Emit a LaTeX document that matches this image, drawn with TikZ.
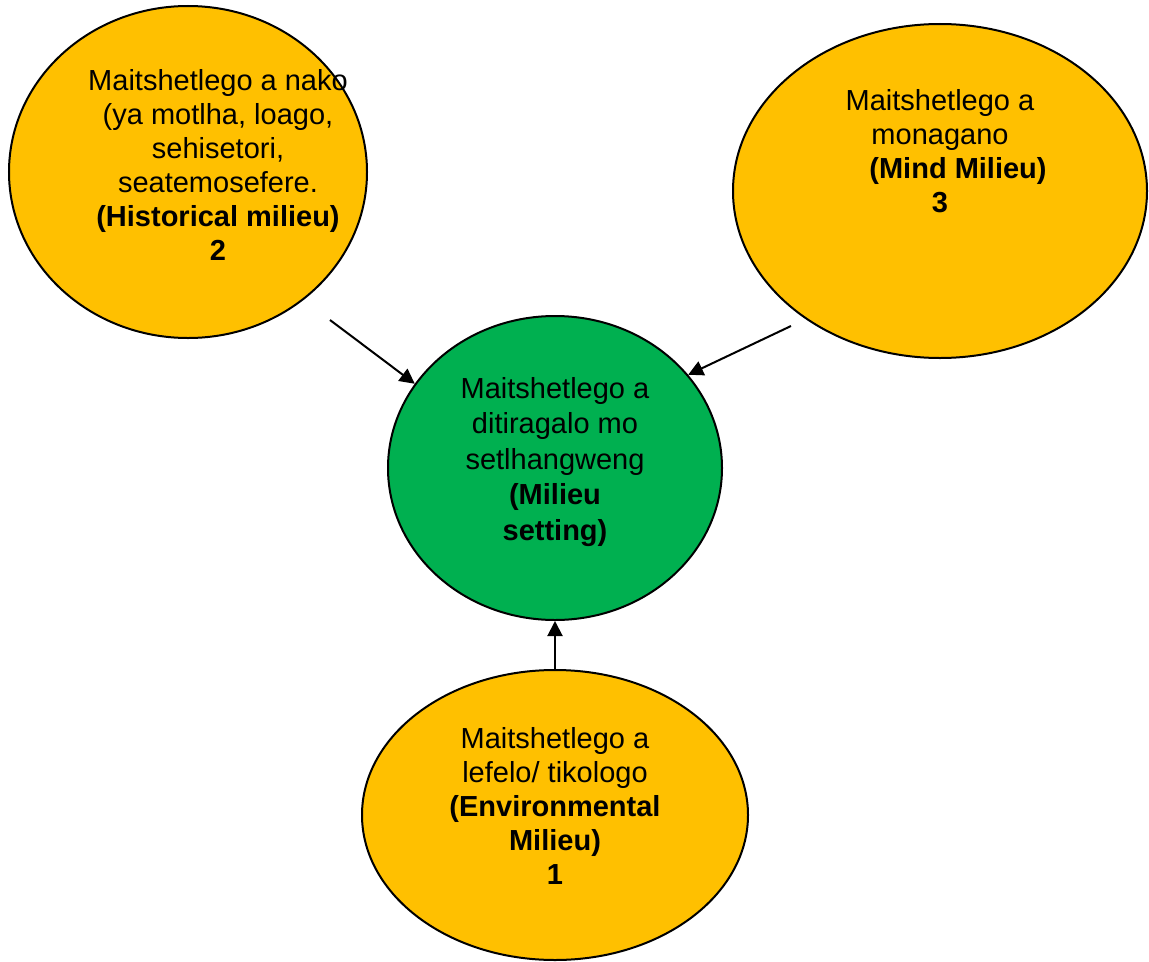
\documentclass[tikz,border=0pt]{standalone}
\usepackage{fontspec}
\setmainfont{Liberation Sans}
\usetikzlibrary{shapes.geometric,arrows.meta}
\definecolor{gold}{HTML}{FFC000}
\definecolor{leaf}{HTML}{00B050}
\begin{document}
\begin{tikzpicture}[x=1bp,y=-1bp,
  bubble/.style={ellipse, draw=black, line width=2bp, inner sep=0pt},
  txt/.style={align=center, inner sep=0pt, font=\fontsize{29bp}{34bp}\selectfont},
  arr/.style={line width=2bp, -{Triangle[length=15bp,width=15bp]}}]
\useasboundingbox (0,0) rectangle (1149,962);

% the four milieu bubbles
\node[bubble, fill=gold, minimum width=358bp, minimum height=332bp] (hist) at (188,172) {};
\node[bubble, fill=gold, minimum width=414bp, minimum height=334bp] (mind) at (940,191) {};
\node[bubble, fill=leaf, minimum width=334bp, minimum height=304bp] (green) at (555,468) {};
\node[bubble, fill=gold, minimum width=386bp, minimum height=290bp] (env) at (555,815) {};

% their texts
\node[txt] (histtext) at (218,165) {Maitshetlego a nako\\(ya motlha, loago,\\sehisetori,\\seatemosefere.\\\textbf{(Historical milieu)}\\\textbf{2}};
\node[txt] (mindtext) at (940,151) {Maitshetlego a\\monagano\\\hspace*{36bp}\textbf{(Mind Milieu)}\\\textbf{3}};
\node[txt, font=\fontsize{29bp}{35.5bp}\selectfont] (greentext) at (555,462) {Maitshetlego a\\ditiragalo mo\\setlhangweng\\\textbf{(Milieu}\\\textbf{setting)}};
\node[txt] (envtext) at (555,806) {Maitshetlego a\\lefelo/ tikologo\\\textbf{(Environmental}\\\textbf{Milieu)}\\\textbf{1}};

% connectors into the milieu setting
\coordinate (histfoot) at (330,320);
\coordinate (mindfoot) at (791,326);
\draw[arr] (histfoot) -- (green.149);
\draw[arr] (mindfoot) -- (green.35);
\draw[arr] (env.north) -- (green.south);
\end{tikzpicture}
\end{document}
